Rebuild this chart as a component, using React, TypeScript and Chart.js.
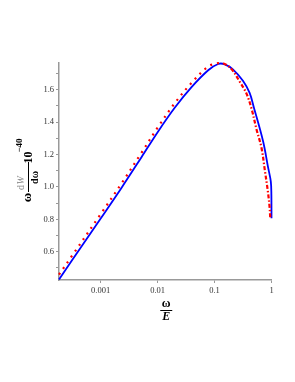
import React, { useEffect, useRef } from "react";
import { Chart, registerables } from "chart.js";

Chart.register(...registerables);

// ω/E values and spectrum values (ω dW/dω · 10^-40)
const blueX = [1.853e-4, 3.16e-4, 0.001, 0.00233, 0.00524, 0.01, 0.0201, 0.0394, 0.0773, 0.1156, 0.151, 0.21, 0.315, 0.413, 0.49, 0.713, 0.871, 0.973, 0.995, 1];
const blueY = [0.428, 0.548, 0.805, 0.995, 1.185, 1.338, 1.49, 1.616, 1.72, 1.759, 1.757, 1.726, 1.655, 1.58, 1.49, 1.28, 1.12, 1.033, 0.95, 0.807];

const redX = [1.853e-4, 3.16e-4, 0.001, 0.00233, 0.00524, 0.01, 0.0201, 0.0394, 0.0773, 0.1156, 0.141, 0.196, 0.275, 0.36, 0.443, 0.546, 0.668, 0.762, 0.861, 0.923, 0.951];
const redY = [0.458, 0.576, 0.832, 1.022, 1.212, 1.366, 1.518, 1.642, 1.743, 1.764, 1.764, 1.73, 1.651, 1.58, 1.487, 1.355, 1.24, 1.105, 0.975, 0.88, 0.807];

const xTickValues = [0.001, 0.01, 0.1, 1];
const xTickLabels = ["0.001", "0.01", "0.1", "1"];
const yTickValues = [0.5, 0.6, 0.7, 0.8, 0.9, 1.0, 1.1, 1.2, 1.3, 1.4, 1.5, 1.6, 1.7];
const yLabeledTicks = [0.6, 0.8, 1.0, 1.2, 1.4, 1.6];

const X_MIN = 1.853e-4;
const X_MAX = 1;
const Y_MIN = 0.425;
const Y_MAX = 1.765;

const SERIF = "'Liberation Serif', 'DejaVu Serif', serif";

const titlePlugin = {
  id: "mapleTitles",
  afterDraw(chart: any) {
    const ctx = chart.ctx as CanvasRenderingContext2D;
    const area = chart.chartArea;
    ctx.save();
    ctx.fillStyle = "#000";
    ctx.strokeStyle = "#000";
    ctx.textAlign = "center";
    ctx.textBaseline = "middle";
    // x title: ω over E
    const cx = (area.left + area.right) / 2 + 1;
    ctx.font = `bold 12px ${SERIF}`;
    ctx.fillText("ω", cx, area.bottom + 24);
    ctx.lineWidth = 1;
    ctx.beginPath();
    ctx.moveTo(cx - 6, area.bottom + 30.5);
    ctx.lineTo(cx + 6, area.bottom + 30.5);
    ctx.stroke();
    ctx.font = `bold italic 12px ${SERIF}`;
    ctx.fillText("E", cx, area.bottom + 37);

    // y title (rotated): tx = -screenY, ty = screenX
    ctx.rotate(-Math.PI / 2);
    ctx.font = `bold 13px ${SERIF}`;
    ctx.fillText("ω", -197.5, 28);
    ctx.beginPath();
    ctx.moveTo(-192, 28.5);
    ctx.lineTo(-162, 28.5);
    ctx.stroke();
    ctx.fillStyle = "#8a8a8a";
    ctx.font = `10px ${SERIF}`;
    ctx.textAlign = "left";
    ctx.fillText("d", -190, 21.5);
    ctx.font = `italic 10px ${SERIF}`;
    ctx.fillText("W", -184.5, 21.5);
    ctx.fillStyle = "#000";
    ctx.textAlign = "center";
    ctx.font = `bold 10px ${SERIF}`;
    ctx.fillText("dω", -177.5, 35);
    ctx.font = `bold 12px ${SERIF}`;
    ctx.fillText("10", -157.5, 29);
    ctx.font = `bold 9px ${SERIF}`;
    ctx.fillText("−40", -145.5, 20);
    ctx.restore();
  },
};

export default function App() {
  const ref = useRef<HTMLCanvasElement | null>(null);

  useEffect(() => {
    if (!ref.current) return;
    const chart = new Chart(ref.current, {
      type: "line",
      data: {
        datasets: [
          {
            label: "red",
            data: redX.map((x, i) => ({ x, y: redY[i] })),
            borderColor: "#ff0000",
            borderWidth: 2.2,
            pointRadius: 0,
            fill: false,
            tension: 0.35,
            borderDash: [2, 5],
            clip: false,
            segment: {
              borderDash: (c: any) => (c.p0.parsed.x >= 0.14 ? [4, 2, 1.5, 2] : [2, 5]),
            },
            order: 1,
          } as any,
          {
            label: "blue",
            data: blueX.map((x, i) => ({ x, y: blueY[i] })),
            borderColor: "#0000ff",
            borderWidth: 1.8,
            pointRadius: 0,
            fill: false,
            tension: 0.35,
            clip: false,
            order: 2,
          } as any,
        ],
      },
      options: {
        responsive: false,
        maintainAspectRatio: false,
        animation: false,
        devicePixelRatio: 1,
        layout: { padding: { top: 63, right: 23.5, left: 0, bottom: 0 } },
        plugins: { legend: { display: false }, tooltip: { enabled: false } },
        scales: {
          x: {
            type: "logarithmic",
            min: X_MIN,
            max: X_MAX,
            afterBuildTicks: (s: any) => {
              s.ticks = xTickValues.map((v) => ({ value: v }));
            },
            afterFit: (s: any) => {
              s.height = 102;
            },
            ticks: {
              autoSkip: false,
              maxRotation: 0,
              padding: 3,
              color: "#333",
              font: { family: SERIF, size: 8.5 },
              callback: (v: any) => {
                const i = xTickValues.indexOf(Number(v));
                return i >= 0 ? xTickLabels[i] : "";
              },
            },
            grid: { drawOnChartArea: false, drawTicks: true, tickLength: 3, color: "#999", lineWidth: 1 },
            border: { color: "#999", width: 1.5 },
          },
          y: {
            type: "linear",
            min: Y_MIN,
            max: Y_MAX,
            afterBuildTicks: (s: any) => {
              s.ticks = yTickValues.map((v) => ({ value: v }));
            },
            afterFit: (s: any) => {
              s.width = 59;
            },
            ticks: {
              autoSkip: false,
              padding: 2,
              color: "#333",
              font: { family: SERIF, size: 8.5 },
              callback: (v: any) => {
                const n = Number(v);
                return yLabeledTicks.some((t) => Math.abs(t - n) < 1e-6) ? n.toFixed(1) : "";
              },
            },
            grid: { drawOnChartArea: false, drawTicks: true, tickLength: 3, color: "#999", lineWidth: 1 },
            border: { color: "#999", width: 1.5 },
          },
        },
      } as any,
      plugins: [titlePlugin],
    });
    return () => chart.destroy();
  }, []);

  return (
    <div style={{ position: "fixed", left: 0, top: 0, width: 295, height: 382, background: "#fff" }}>
      <canvas ref={ref} width={295} height={382} style={{ display: "block" }} />
    </div>
  );
}
